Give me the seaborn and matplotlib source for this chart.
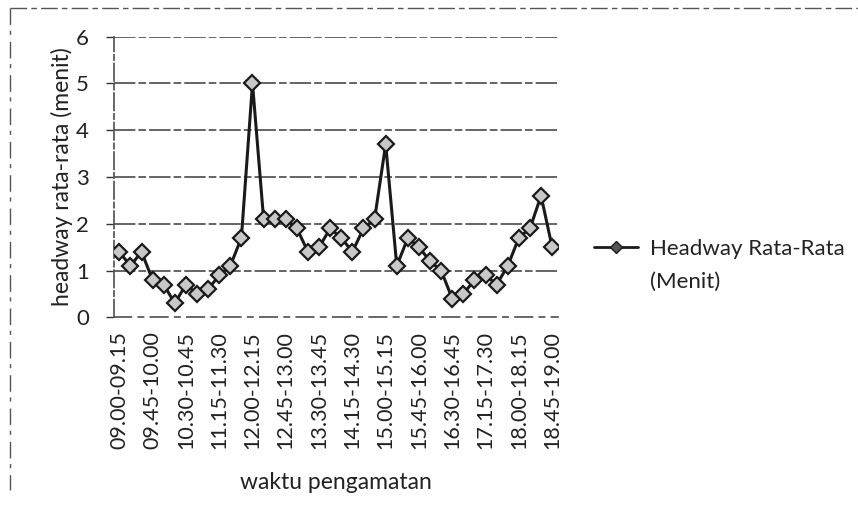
import matplotlib
matplotlib.use("Agg")
import matplotlib.pyplot as plt
from matplotlib.lines import Line2D
import seaborn as sns
import pandas as pd

# Categories: 15-minute observation intervals
starts = ["09.00", "09.15", "09.30", "09.45", "10.00", "10.15", "10.30", "10.45",
          "11.00", "11.15", "11.30", "11.45", "12.00", "12.15", "12.30", "12.45",
          "13.00", "13.15", "13.30", "13.45", "14.00", "14.15", "14.30", "14.45",
          "15.00", "15.15", "15.30", "15.45", "16.00", "16.15", "16.30", "16.45",
          "17.00", "17.15", "17.30", "17.45", "18.00", "18.15", "18.30", "18.45"]
ends = starts[1:] + ["19.00"]
categories = [f"{a}-{b}" for a, b in zip(starts, ends)]

headway = [1.4, 1.1, 1.4, 0.8, 0.7, 0.3, 0.7, 0.5, 0.6, 0.9,
           1.1, 1.7, 5.0, 2.1, 2.1, 2.1, 1.9, 1.4, 1.5, 1.9,
           1.7, 1.4, 1.9, 2.1, 3.7, 1.1, 1.7, 1.5, 1.2, 1.0,
           0.4, 0.5, 0.8, 0.9, 0.7, 1.1, 1.7, 1.9, 2.6, 1.5]

series_name_lines = ["Headway Rata-Rata", "(Menit)"]
y_ticks = [0, 1, 2, 3, 4, 5, 6]

df = pd.DataFrame({"waktu": categories, "headway": headway})

sns.set_theme(style="white")
plt.rcParams["font.family"] = ["Lato", "DejaVu Sans"]
TXT = "#222222"

fig = plt.figure(figsize=(8.58, 5.16), dpi=100)
ax = fig.add_axes([0.1326, 0.385, 0.650 - 0.1326, 0.9289 - 0.385])

# gridlines
for yv in y_ticks[1:]:
    ax.axhline(yv, color="#3a3a3a", lw=1.1, ls=(0, (14, 2, 5, 2)), zorder=0)

sns.lineplot(data=df, x="waktu", y="headway", sort=False, ax=ax,
             color="#1a1a1a", lw=2.2, marker="D", markersize=8,
             markerfacecolor="#c8c8c8", markeredgecolor="#1a1a1a",
             markeredgewidth=1.6, zorder=3)

ax.set_xlim(-0.5, len(categories) - 0.5)
ax.set_ylim(0, 6)
ax.set_yticks(y_ticks)
ax.set_yticklabels([str(v) for v in y_ticks], fontsize=16, color=TXT)
ax.set_xticks(range(0, len(categories), 3))
ax.set_xticklabels(categories[::3], rotation=90, fontsize=15.5, color=TXT)
ax.tick_params(axis="y", length=6, width=1, color="#333", pad=12, direction="out", left=True)
ax.tick_params(axis="x", length=0, pad=10)

for s in ["top", "right"]:
    ax.spines[s].set_visible(False)
ax.spines["left"].set_color("#555")
ax.spines["bottom"].set_color("#555")
ax.spines["left"].set_linestyle((0, (10, 2, 3, 2)))
ax.spines["bottom"].set_linestyle((0, (10, 4, 3, 4)))

ax.set_xlabel("waktu pengamatan", fontsize=16.5, labelpad=16, color=TXT)
ax.set_ylabel("headway rata-rata (menit)", fontsize=16.5, labelpad=2, color=TXT)

handle = Line2D([], [], color="#1a1a1a", lw=2.0, marker="D", markersize=6,
                markerfacecolor="#555555", markeredgecolor="#1a1a1a")
leg = fig.legend([handle], [series_name_lines[0]], loc="center left",
                 bbox_to_anchor=(0.669, 0.517), frameon=False, fontsize=16,
                 handlelength=2.0, handletextpad=0.5)
for t in leg.get_texts():
    t.set_color(TXT)
fig.text(0.7576, 0.4535, series_name_lines[1], fontsize=16, color=TXT,
         ha="left", va="center")

# faint scanned chart-area border
fig.add_artist(Line2D([0.012, 1.0], [0.985, 0.985], transform=fig.transFigure,
                      color="#555", lw=1.0, ls=(0, (12, 3, 4, 3))))
fig.add_artist(Line2D([0.012, 0.012], [0.985, 0.05], transform=fig.transFigure,
                      color="#555", lw=1.0, ls=(0, (12, 4, 3, 5))))

fig.savefig("out.png", dpi=100)
